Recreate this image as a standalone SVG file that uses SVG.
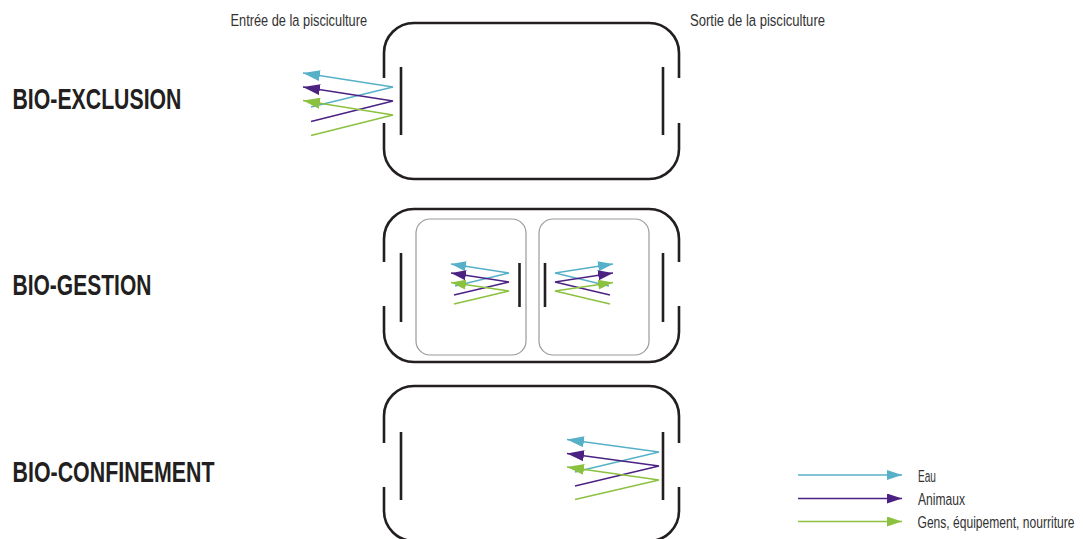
<svg xmlns="http://www.w3.org/2000/svg" width="1083" height="539" viewBox="0 0 1083 539">
  <style>
    .title { font-family: "Liberation Sans", Arial, sans-serif; font-weight: bold; font-size: 30px; fill: #231f20; }
    .label { font-family: "Liberation Sans", Arial, sans-serif; font-size: 17px; fill: #333333; }
    .hall { fill: none; stroke: #231f20; stroke-width: 2.6; stroke-linecap: butt; }
    .door { fill: none; stroke: #231f20; stroke-width: 2.6; }
    .room { fill: none; stroke: #9a9a9a; stroke-width: 1.2; }
    .flow { fill: none; stroke-width: 1.3; stroke-linejoin: miter; }
    .eau { stroke: #56b0c8; }
    .ani { stroke: #4b2182; }
    .gen { stroke: #8cc13f; }
  </style>
  <defs>
    <!-- large arrowheads -->
    <marker id="hEau" markerUnits="userSpaceOnUse" viewBox="0 0 17 11" refX="17" refY="5.5" markerWidth="17" markerHeight="11" orient="auto">
      <path d="M0,0 L17,5.5 L0,11 Z" fill="#56b0c8"/>
    </marker>
    <marker id="hAni" markerUnits="userSpaceOnUse" viewBox="0 0 17 11" refX="17" refY="5.5" markerWidth="17" markerHeight="11" orient="auto">
      <path d="M0,0 L17,5.5 L0,11 Z" fill="#4b2182"/>
    </marker>
    <marker id="hGen" markerUnits="userSpaceOnUse" viewBox="0 0 17 11" refX="17" refY="5.5" markerWidth="17" markerHeight="11" orient="auto">
      <path d="M0,0 L17,5.5 L0,11 Z" fill="#8cc13f"/>
    </marker>
    <!-- small arrowheads for the inner rooms and the legend -->
    <marker id="sEau" markerUnits="userSpaceOnUse" viewBox="0 0 15 10" refX="15" refY="5" markerWidth="15" markerHeight="10" orient="auto">
      <path d="M0,0 L15,5 L0,10 Z" fill="#56b0c8"/>
    </marker>
    <marker id="sAni" markerUnits="userSpaceOnUse" viewBox="0 0 15 10" refX="15" refY="5" markerWidth="15" markerHeight="10" orient="auto">
      <path d="M0,0 L15,5 L0,10 Z" fill="#4b2182"/>
    </marker>
    <marker id="sGen" markerUnits="userSpaceOnUse" viewBox="0 0 15 10" refX="15" refY="5" markerWidth="15" markerHeight="10" orient="auto">
      <path d="M0,0 L15,5 L0,10 Z" fill="#8cc13f"/>
    </marker>
  </defs>

  <!-- Headings, narrowed horizontally to a condensed look -->
  <text class="title" transform="translate(12.5,108.5) scale(0.72,1)" textLength="234.7" lengthAdjust="spacingAndGlyphs">BIO-EXCLUSION</text>
  <text class="title" transform="translate(12.5,294.5) scale(0.72,1)" textLength="193" lengthAdjust="spacingAndGlyphs">BIO-GESTION</text>
  <text class="title" transform="translate(12.5,481.5) scale(0.72,1)" textLength="280.6" lengthAdjust="spacingAndGlyphs">BIO-CONFINEMENT</text>

  <text class="label" transform="translate(230.5,26) scale(0.72,1)" textLength="189.6" lengthAdjust="spacingAndGlyphs">Entrée de la pisciculture</text>
  <text class="label" transform="translate(690,26) scale(0.72,1)" textLength="187.5" lengthAdjust="spacingAndGlyphs">Sortie de la pisciculture</text>

  <!-- Bio-exclusion farm -->
  <g id="farm-exclusion">
    <path class="hall" d="M384,78 V53 A30,30 0 0 1 414,23 H649 A30,30 0 0 1 679,53 V78"/>
    <path class="hall" d="M384,123 V149 A30,30 0 0 0 414,179 H649 A30,30 0 0 0 679,149 V123"/>
    <line class="door" x1="401" y1="67" x2="401" y2="135"/>
    <line class="door" x1="663" y1="67" x2="663" y2="135"/>
  </g>

  <!-- Bio-gestion farm with two rooms -->
  <g id="farm-gestion">
    <path class="hall" d="M384,262 V239 A30,30 0 0 1 414,209 H649 A30,30 0 0 1 679,239 V262"/>
    <path class="hall" d="M384,306 V332 A30,30 0 0 0 414,362 H649 A30,30 0 0 0 679,332 V306"/>
    <line class="door" x1="401" y1="253" x2="401" y2="322"/>
    <line class="door" x1="663" y1="253" x2="663" y2="322"/>
  </g>
  <g id="room-left">
    <rect class="room" x="416" y="219" width="110" height="136" rx="14"/>
    <line class="door" x1="519.5" y1="263" x2="519.5" y2="307"/>
  </g>
  <g id="room-right">
    <rect class="room" x="539" y="219" width="110" height="136" rx="14"/>
    <line class="door" x1="545" y1="263" x2="545" y2="307"/>
  </g>

  <!-- Bio-confinement farm -->
  <g id="farm-confinement">
    <path class="hall" d="M384,443 V416 A30,30 0 0 1 414,386 H649 A30,30 0 0 1 679,416 V443"/>
    <path class="hall" d="M384,487 V511 A30,30 0 0 0 414,541 H649 A30,30 0 0 0 679,511 V487"/>
    <line class="door" x1="401" y1="432" x2="401" y2="500"/>
    <line class="door" x1="663" y1="432" x2="663" y2="500"/>
  </g>

  <!-- Flows bouncing off the doors -->
  <g id="connectors">
    <path class="flow eau" d="M311,107 L393,87 L303,73" marker-end="url(#hEau)"/>
    <path class="flow ani" d="M311,121.5 L393,101 L303,87" marker-end="url(#hAni)"/>
    <path class="flow gen" d="M311,135.5 L393,115 L303,100.5" marker-end="url(#hGen)"/>

    <path class="flow eau" d="M455,286 L509,273 L451,264" marker-end="url(#sEau)"/>
    <path class="flow ani" d="M454,295 L509,282 L451,273" marker-end="url(#sAni)"/>
    <path class="flow gen" d="M454,304 L509,291 L451,282.5" marker-end="url(#sGen)"/>

    <path class="flow eau" d="M609,286 L555,273 L613,264" marker-end="url(#sEau)"/>
    <path class="flow ani" d="M610,295 L555,282 L613,273" marker-end="url(#sAni)"/>
    <path class="flow gen" d="M610,304 L555,291 L613,282.5" marker-end="url(#sGen)"/>

    <path class="flow eau" d="M575,472 L659,452 L567,439.5" marker-end="url(#hEau)"/>
    <path class="flow ani" d="M575,486 L659,466 L567,453.5" marker-end="url(#hAni)"/>
    <path class="flow gen" d="M575,499.5 L659,480 L567,467" marker-end="url(#hGen)"/>
  </g>

  <!-- Legend -->
  <g id="legend">
    <line class="flow eau" x1="798" y1="475" x2="902" y2="475" marker-end="url(#sEau)"/>
    <line class="flow ani" x1="798" y1="498.5" x2="902" y2="498.5" marker-end="url(#sAni)"/>
    <line class="flow gen" x1="798" y1="521.5" x2="902" y2="521.5" marker-end="url(#sGen)"/>
    <text class="label" transform="translate(918,481.5) scale(0.72,1)" textLength="25" lengthAdjust="spacingAndGlyphs">Eau</text>
    <text class="label" transform="translate(918,504.5) scale(0.72,1)" textLength="65.3" lengthAdjust="spacingAndGlyphs">Animaux</text>
    <text class="label" transform="translate(917.5,527.5) scale(0.72,1)" textLength="218" lengthAdjust="spacingAndGlyphs">Gens, équipement, nourriture</text>
  </g>
</svg>
